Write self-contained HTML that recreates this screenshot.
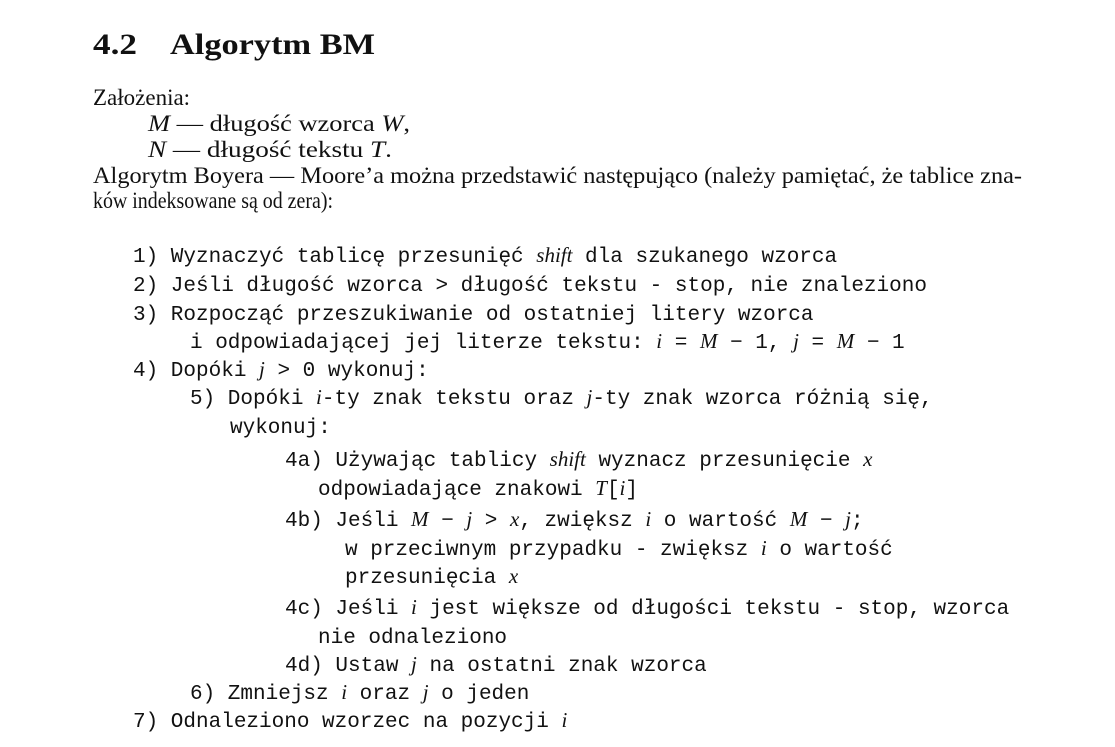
<!DOCTYPE html>
<html><head><meta charset="utf-8"><style>
html,body{margin:0;padding:0;background:#fff;}
svg{display:block}
.s{font-family:"Liberation Serif",serif;font-size:23px;fill:#111}
.h{font-family:"Liberation Serif",serif;font-size:30px;font-weight:bold;fill:#111}
.m{font-family:"Liberation Mono",monospace;font-size:21px;fill:#111}
.i{font-family:"Liberation Serif",serif;font-style:italic}
</style></head><body>
<svg width="1115" height="747">
<text class="h" x="93" y="54" textLength="44" lengthAdjust="spacingAndGlyphs">4.2</text>
<text class="h" x="170" y="54" textLength="205" lengthAdjust="spacingAndGlyphs">Algorytm BM</text>
<text class="s" x="93" y="105">Założenia:</text>
<text class="s" x="148" y="131" textLength="262" lengthAdjust="spacingAndGlyphs"><tspan class="i">M</tspan> — długość wzorca <tspan class="i">W</tspan>,</text>
<text class="s" x="148" y="157" textLength="244" lengthAdjust="spacingAndGlyphs"><tspan class="i">N</tspan> — długość tekstu <tspan class="i">T</tspan>.</text>
<text class="s" x="93" y="183" textLength="929" lengthAdjust="spacingAndGlyphs">Algorytm Boyera — Moore’a można przedstawić następująco (należy pamiętać, że tablice zna-</text>
<text class="s" x="93" y="208" textLength="240" lengthAdjust="spacingAndGlyphs">ków indeksowane są od zera):</text>

<text class="m" x="133" y="262">1) Wyznaczyć tablicę przesunięć <tspan class="i">shift</tspan> dla szukanego wzorca</text>
<text class="m" x="133" y="291">2) Jeśli długość wzorca &gt; długość tekstu - stop, nie znaleziono</text>
<text class="m" x="133" y="320">3) Rozpocząć przeszukiwanie od ostatniej litery wzorca</text>
<text class="m" x="190" y="348">i odpowiadającej jej literze tekstu: <tspan class="i">i</tspan> = <tspan class="i">M</tspan> − 1,  <tspan class="i">j</tspan> = <tspan class="i">M</tspan> − 1</text>
<text class="m" x="133" y="376">4) Dopóki <tspan class="i">j</tspan> &gt; 0 wykonuj:</text>
<text class="m" x="190" y="404">5) Dopóki <tspan class="i">i</tspan>-ty znak tekstu oraz <tspan class="i">j</tspan>-ty znak wzorca różnią się,</text>
<text class="m" x="230" y="433">wykonuj:</text>
<text class="m" x="285" y="466">4a) Używając tablicy <tspan class="i">shift</tspan> wyznacz przesunięcie <tspan class="i">x</tspan></text>
<text class="m" x="318" y="495">odpowiadające znakowi <tspan class="i">T</tspan>[<tspan class="i">i</tspan>]</text>
<text class="m" x="285" y="526">4b) Jeśli <tspan class="i">M</tspan> − <tspan class="i">j</tspan> &gt; <tspan class="i">x</tspan>, zwiększ <tspan class="i">i</tspan> o wartość <tspan class="i">M</tspan> − <tspan class="i">j</tspan>;</text>
<text class="m" x="345" y="555">w przeciwnym przypadku - zwiększ <tspan class="i">i</tspan> o wartość</text>
<text class="m" x="345" y="583">przesunięcia <tspan class="i">x</tspan></text>
<text class="m" x="285" y="614">4c) Jeśli <tspan class="i">i</tspan> jest większe od długości tekstu - stop, wzorca</text>
<text class="m" x="318" y="643">nie odnaleziono</text>
<text class="m" x="285" y="671">4d) Ustaw <tspan class="i">j</tspan> na ostatni znak wzorca</text>
<text class="m" x="190" y="699">6) Zmniejsz <tspan class="i">i</tspan> oraz <tspan class="i">j</tspan> o jeden</text>
<text class="m" x="133" y="727">7) Odnaleziono wzorzec na pozycji <tspan class="i">i</tspan></text>
</svg>
</body></html>
